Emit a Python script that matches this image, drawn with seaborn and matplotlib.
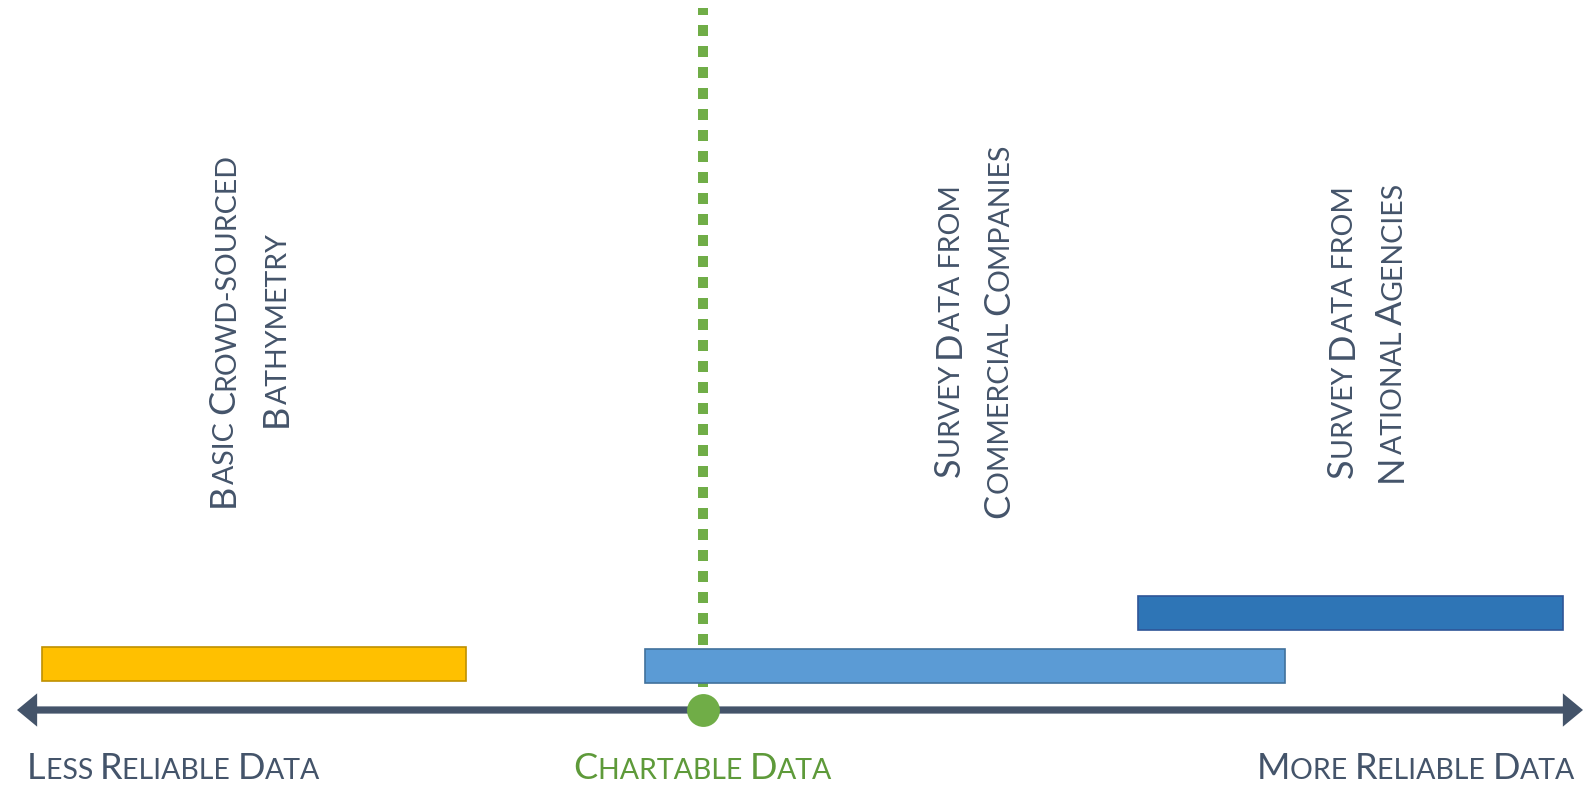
import matplotlib
matplotlib.use("Agg")
import matplotlib.pyplot as plt
import seaborn as sns
from matplotlib.transforms import IdentityTransform

# Reliability scale: 0 = least reliable, 100 = most reliable
categories = [
    "Basic Crowd-sourced Bathymetry",
    "Survey Data from Commercial Companies",
    "Survey Data from National Agencies",
]
label_lines = [
    ["Basic Crowd-sourced", "Bathymetry"],
    ["Survey Data from", "Commercial Companies"],
    ["Survey Data from", "National Agencies"],
]
range_start = [1.6, 40.1, 71.6]
range_end = [28.7, 81.0, 98.7]
chartable_threshold = 43.8
axis_labels = ["Less Reliable Data", "Chartable Data", "More Reliable Data"]

# ---- styling / layout ----
W, H, DPI = 1585, 787, 100
FONT = ["Lato", "DejaVu Sans"]
BIG, SMALL = 26, 20.5
TEXT_COLOR = "#44546A"
GREEN = "#70AD47"
GREEN_TEXT = "#5E9A3A"
bar_colors = ["#FFC000", "#5B9BD5", "#2E75B6"]
bar_edges = ["#BF9000", "#41719C", "#2F5597"]
bar_rows = [664, 665.5, 612.5]      # vertical centre of each bar (px from top)
bar_height = 34
axis_y = 710

sns.set_theme(style="white")
plt.rcParams["font.family"] = FONT

fig = plt.figure(figsize=(W / DPI, H / DPI), dpi=DPI)
fig.patch.set_facecolor("white")
ax = fig.add_axes([17 / W, 0, 1566 / W, 1])
ax.set_xlim(0, 100)
ax.set_ylim(H, 0)
ax.axis("off")

# range bars
for s, e, row, fc, ec in zip(range_start, range_end, bar_rows, bar_colors, bar_edges):
    ax.barh(row, e - s, left=s, height=bar_height, color=fc,
            edgecolor=ec, linewidth=1.2, zorder=3)

# chartable threshold marker
ax.plot([chartable_threshold, chartable_threshold], [8, axis_y], color=GREEN,
        lw=7.2, linestyle=(0.4, (1.1, 1.0)), dash_capstyle="butt", zorder=2)

# double-headed reliability axis
arrow_kw = dict(arrowstyle="simple,head_length=1.45,head_width=2.4,tail_width=0.52",
                mutation_scale=10, color=TEXT_COLOR, lw=0,
                shrinkA=0, shrinkB=0)
ax.annotate("", xy=(100, axis_y), xytext=(50, axis_y), arrowprops=arrow_kw, zorder=4)
ax.annotate("", xy=(0, axis_y), xytext=(50, axis_y), arrowprops=arrow_kw, zorder=4)
ax.scatter([chartable_threshold], [axis_y], s=560, color=GREEN, zorder=5, linewidths=0)

renderer = fig.canvas.get_renderer()


def caps_runs(s):
    runs = []
    for ch in s:
        big = ch.isupper()
        if runs and runs[-1][1] == big:
            runs[-1][0] += ch.upper()
        else:
            runs.append([ch.upper(), big])
    return runs


def run_width(text, size):
    t = fig.text(0, 0, "X" + text + "X", fontsize=size, family=FONT)
    w1 = t.get_window_extent(renderer).width
    t.set_text("XX")
    w2 = t.get_window_extent(renderer).width
    t.remove()
    return w1 - w2


def small_caps(x, y, s, color, rotation=0, align=0.0):
    """Draw s in small caps; (x, y) in px from top-left.
    Horizontal: y is the baseline, align 0/0.5/1 = left/centre/right.
    Vertical (rotation 90): x is the baseline, y is the line centre."""
    runs = [(t, BIG if b else SMALL) for t, b in caps_runs(s)]
    widths = [run_width(t, sz) for t, sz in runs]
    total = sum(widths)
    if rotation == 0:
        cx = x - total * align
        for (t, sz), w in zip(runs, widths):
            fig.text(cx, H - y, t, fontsize=sz, family=FONT, color=color,
                     transform=IdentityTransform(), ha="left", va="baseline")
            cx += w
    else:
        cy = (H - y) - total / 2
        for (t, sz), w in zip(runs, widths):
            fig.text(x, cy, t, fontsize=sz, family=FONT, color=color,
                     rotation=90, rotation_mode="anchor",
                     transform=IdentityTransform(), ha="left", va="baseline")
            cy += w


# category labels, two vertical lines each
label_baselines = [(234, 287), (960, 1009), (1353, 1402)]
label_centres = [330, 331, 332]
for lines, bases, cy in zip(label_lines, label_baselines, label_centres):
    for line, bx in zip(lines, bases):
        small_caps(bx, cy, line, TEXT_COLOR, rotation=90)

# axis captions
small_caps(27, 779, axis_labels[0], TEXT_COLOR, align=0.0)
small_caps(703, 779, axis_labels[1], GREEN_TEXT, align=0.5)
small_caps(1575, 779, axis_labels[2], TEXT_COLOR, align=1.0)

fig.savefig("out.png", dpi=DPI, facecolor="white")
